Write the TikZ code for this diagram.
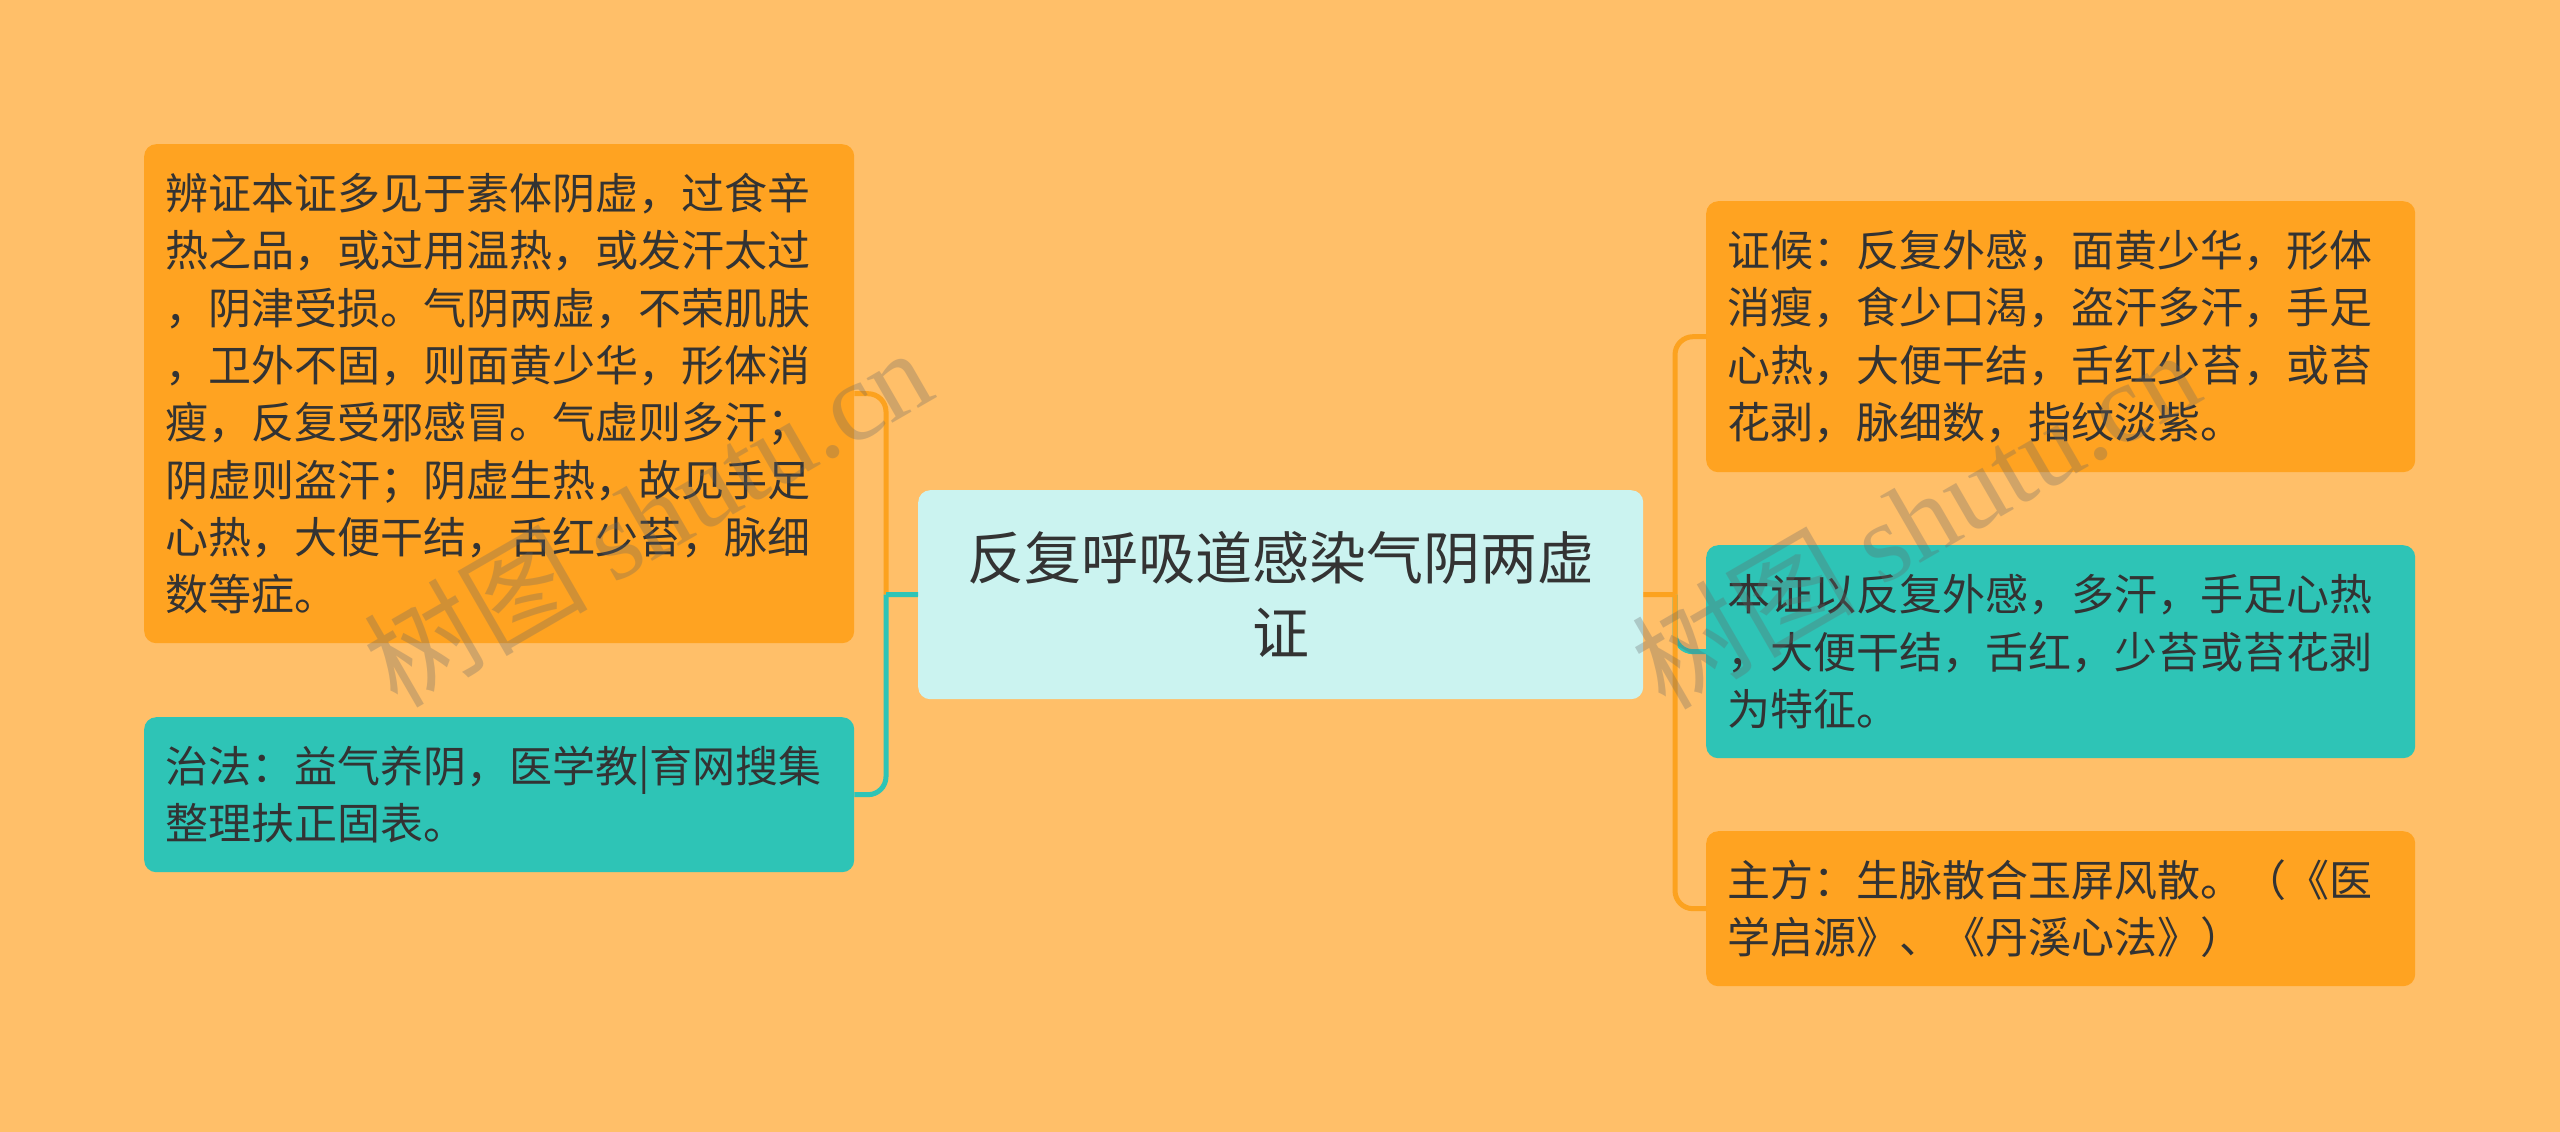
\documentclass[tikz,border=0pt]{standalone}
\usepackage{fontspec}
\setmainfont{Noto Sans CJK SC}
\newfontfamily\wmlatin{Liberation Serif}
\definecolor{bgc}{HTML}{FFBF69}
\definecolor{orangebox}{HTML}{FFA321}
\definecolor{tealbox}{HTML}{2EC4B6}
\definecolor{centerbox}{HTML}{CBF3F0}
\definecolor{txt}{HTML}{333333}
\definecolor{orangeline}{HTML}{FCA21F}
\definecolor{tealline}{HTML}{2EC4B6}
\tikzset{
  boxbase/.style={rounded corners=12pt, inner xsep=21pt, inner ysep=0pt, align=left, anchor=north west, text=txt,
    font=\fontsize{43}{57.3}\selectfont},
  orangenode/.style={boxbase, fill=orangebox},
  tealnode/.style={boxbase, fill=tealbox},
  centernode/.style={rounded corners=12pt, inner sep=0pt, align=center, anchor=north west, text=txt, fill=centerbox,
    font=\fontsize{57}{75}\selectfont},
  oline/.style={draw=orangeline, line width=5pt},
  tline/.style={draw=tealline, line width=5pt},
  watermark/.style={rotate=30, text=gray!80!black, opacity=0.3, font=\fontsize{112}{120}\selectfont, inner sep=0pt}
}
\begin{document}
\begin{tikzpicture}[x=1pt,y=-1pt]
\useasboundingbox[fill=bgc] (0,0) rectangle (2560,1132);

% centre
\node[centernode, minimum width=725pt, minimum height=209pt, text width=725pt] (c) at (918,490)
  {反复呼吸道感染气阴两虚\\证};

% left
\node[orangenode, minimum height=499pt, text width=668pt] (lt) at (144,144)
  {辨证本证多见于素体阴虚，过食辛\\热之品，或过用温热，或发汗太过\\，阴津受损。气阴两虚，不荣肌肤\\，卫外不固，则面黄少华，形体消\\瘦，反复受邪感冒。气虚则多汗；\\阴虚则盗汗；阴虚生热，故见手足\\心热，大便干结，舌红少苔，脉细\\数等症。};
\node[tealnode, minimum height=155pt, text width=668pt] (lb) at (144,717)
  {治法：益气养阴，医学教|育网搜集\\整理扶正固表。};

% right
\node[orangenode, minimum height=271pt, text width=667pt] (r1) at (1706,201)
  {证候：反复外感，面黄少华，形体\\消瘦，食少口渴，盗汗多汗，手足\\心热，大便干结，舌红少苔，或苔\\花剥，脉细数，指纹淡紫。};
\node[tealnode, minimum height=213pt, text width=667pt] (r2) at (1706,545)
  {本证以反复外感，多汗，手足心热\\，大便干结，舌红，少苔或苔花剥\\为特征。};
\node[orangenode, minimum height=155pt, text width=667pt] (r3) at (1706,831)
  {主方：生脉散合玉屏风散。（《医\\学启源》、《丹溪心法》）};

% junctions
\coordinate (lj) at (886,594.5);
\coordinate (rj) at (1675,594.5);

% left connectors
\draw[oline, rounded corners=18pt] (lj) |- (lt.east);
\draw[tline] (c.west) -- (lj);
\draw[tline, rounded corners=18pt] (lj) |- (lb.east);

% right connectors
\draw[tline, rounded corners=18pt] (rj) |- (r2.west);
\draw[oline, rounded corners=18pt] (rj) |- (r1.west);
\draw[oline, rounded corners=18pt] (rj) |- (r3.west);
\draw[oline] (c.east) -- (rj);

% watermarks
\node[watermark] (wm1) at (647,516) {树图 {\wmlatin shutu.cn}};
\node[watermark] (wm2) at (1915,518) {树图 {\wmlatin shutu.cn}};
\end{tikzpicture}
\end{document}
